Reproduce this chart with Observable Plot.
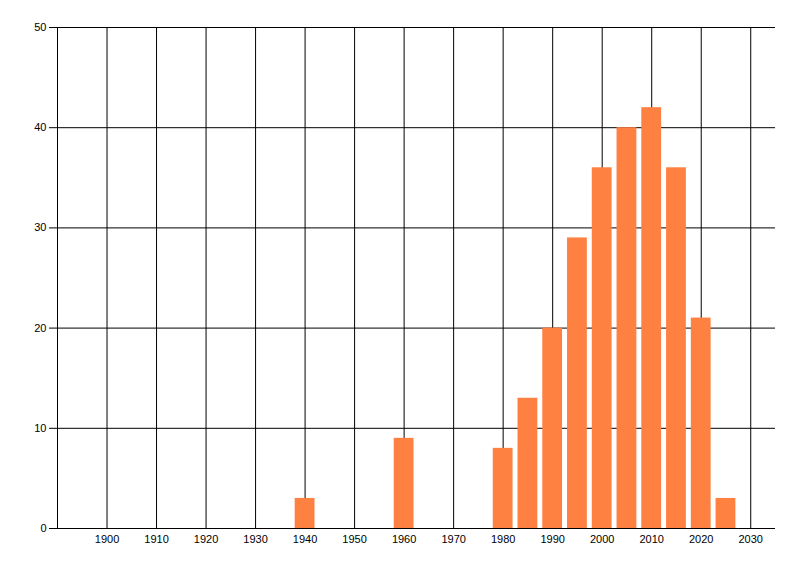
<!DOCTYPE html>
<html>
<head>
<meta charset="utf-8">
<script src="https://cdn.jsdelivr.net/npm/d3@7"></script>
<script src="https://cdn.jsdelivr.net/npm/@observablehq/plot@0.6"></script>
<style>
  html, body { margin: 0; padding: 0; background: #fff; }
  #chart svg { display: block; }
</style>
</head>
<body>
<div id="chart"></div>
<script>
const years = [1940, 1960, 1980, 1985, 1990, 1995, 2000, 2005, 2010, 2015, 2020, 2025];
const counts = [3, 9, 8, 13, 20, 29, 36, 40, 42, 36, 21, 3];
const xTicks = [1900, 1910, 1920, 1930, 1940, 1950, 1960, 1970, 1980, 1990, 2000, 2010, 2020, 2030];
const yTicks = [0, 10, 20, 30, 40, 50];
const xDomain = [1890, 2035];
const barWidth = 4;

const bars = years.map((year, i) => ({year, count: counts[i]}));

function dessinerHistogramme(divId) {
    const div = document.getElementById(divId);
    div.innerHTML = '';

    const chart = Plot.plot({
        width: 800,
        height: 576,
        marginLeft: 57,
        marginRight: 25,
        marginTop: 27,
        marginBottom: 48,
        style: {fontFamily: "'Liberation Sans', Arial, sans-serif", fontSize: "11px", color: "#000", background: "#fff"},
        x: {domain: xDomain, ticks: xTicks, tickFormat: d => String(d), tickSize: 0, tickPadding: 7, label: null},
        y: {domain: [0, 50], ticks: yTicks, tickSize: 8, tickPadding: 3, label: null},
        marks: [
            Plot.ruleX(xTicks, {stroke: "#000"}),
            Plot.ruleY(yTicks, {stroke: "#000"}),
            Plot.ruleX([xDomain[0]], {stroke: "#000"}),
            Plot.rectY(bars, {x1: d => d.year - barWidth / 2, x2: d => d.year + barWidth / 2, y: "count", fill: "#ff8142"})
        ]
    });

    div.appendChild(chart);
}

dessinerHistogramme('chart');
</script>
</body>
</html>
